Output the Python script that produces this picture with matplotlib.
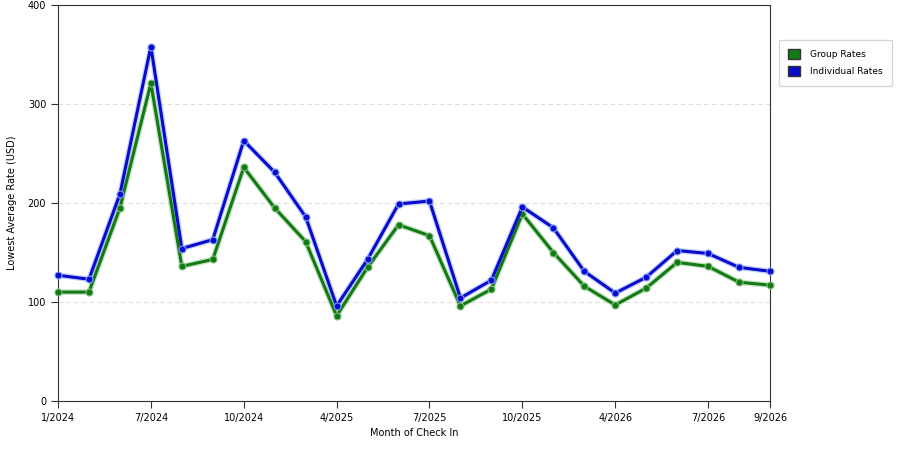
import matplotlib
matplotlib.use("Agg")
import matplotlib.pyplot as plt
from matplotlib.patches import Patch

months = ["1/2024", "3/2024", "5/2024", "7/2024", "8/2024", "9/2024", "10/2024",
          "12/2024", "2/2025", "4/2025", "5/2025", "6/2025", "7/2025", "8/2025",
          "9/2025", "10/2025", "12/2025", "2/2026", "4/2026", "5/2026", "6/2026",
          "7/2026", "8/2026", "9/2026"]
group_rates = [110, 110, 195, 321, 136, 143, 236, 195, 161, 86, 135, 178, 167, 96,
               113, 189, 150, 116, 97, 114, 140, 136, 120, 117]
individual_rates = [127, 123, 209, 358, 154, 163, 263, 231, 186, 96, 143, 199, 202,
                    104, 122, 196, 175, 131, 109, 125, 152, 149, 135, 131]
tick_labels = ["1/2024", "7/2024", "10/2024", "4/2025", "7/2025", "10/2025",
               "4/2026", "7/2026", "9/2026"]

green = "#127a12"
blue = "#0a0acc"

fig = plt.figure(figsize=(9, 4.5), dpi=100)
ax = fig.add_axes([58 / 900, 49 / 450, 712 / 900, 396 / 450])

x = list(range(len(months)))
for vals, col, halo in [(group_rates, green, "#7fbf7f"), (individual_rates, blue, "#7f9fff")]:
    ax.plot(x, vals, color=halo, linewidth=4, alpha=0.45, zorder=2, clip_on=False)
    ax.plot(x, vals, color=col, linewidth=2.2, marker="o", markersize=5,
            markerfacecolor=col, markeredgecolor=halo, markeredgewidth=0.8,
            zorder=3, clip_on=False)

ax.set_xlim(0, len(months) - 1)
ax.set_ylim(0, 400)
ax.set_yticks([0, 100, 200, 300, 400])
ax.set_xticks([months.index(m) for m in tick_labels])
ax.set_xticklabels(tick_labels)
ax.tick_params(labelsize=7, length=5, color="#333333")
ax.grid(axis="y", color="#dddddd", linestyle=(0, (4, 3)), linewidth=0.8)
ax.set_axisbelow(True)
for s in ax.spines.values():
    s.set_color("#333333")

ax.set_xlabel("Month of Check In", fontsize=7)
ax.set_ylabel("Lowest Average Rate (USD)", fontsize=7, labelpad=8)

handles = [Patch(facecolor=green, edgecolor="#333333", label="Group Rates"),
           Patch(facecolor=blue, edgecolor="#333333", label="Individual Rates")]
fig.legend(handles=handles, loc="upper left", bbox_to_anchor=(779 / 900, 1 - 40 / 450),
           borderaxespad=0, fontsize=6.5, frameon=True, fancybox=False,
           edgecolor="#cccccc", handlelength=1.3, handleheight=1.3,
           handletextpad=1.1, borderpad=1.05, labelspacing=0.75)

fig.savefig("out.png", dpi=100)
